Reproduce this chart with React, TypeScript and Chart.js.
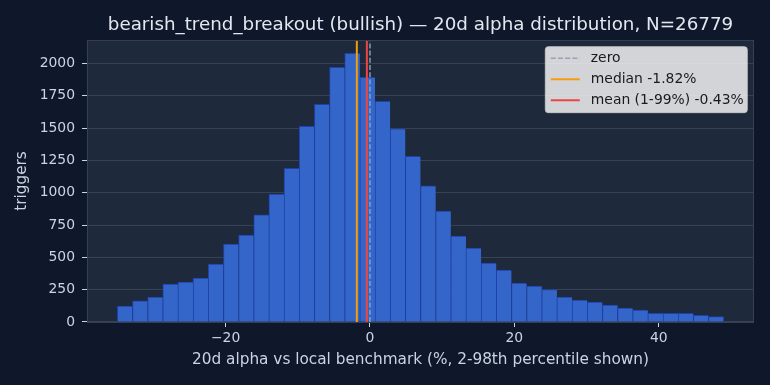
import React, { useEffect, useRef } from "react";
import { Chart, registerables } from "chart.js";

Chart.register(...registerables);

// ---- data ----
const BIN_START = -35;
const BIN_WIDTH = 2.1;
const counts = [
  124, 163, 193, 294, 309, 340, 448, 602, 672, 829,
  989, 1189, 1513, 1684, 1969, 2077, 1892, 1707, 1494, 1282,
  1053, 857, 664, 571, 456, 402, 301, 278, 250, 193,
  170, 154, 131, 108, 93, 67, 67, 67, 52, 41,
];
const xTicks = [-20, 0, 20, 40];
const yTicks = [0, 250, 500, 750, 1000, 1250, 1500, 1750, 2000];
const X_MIN = -39.2;
const X_MAX = 53.2;
const Y_MAX = 2181;
const zeroValue = 0;
const medianValue = -1.82;
const meanValue = -0.43;
const titleText = "bearish_trend_breakout (bullish) — 20d alpha distribution, N=26779";
const xLabel = "20d alpha vs local benchmark (%, 2-98th percentile shown)";
const yLabel = "triggers";

const FONT = "'DejaVu Sans', sans-serif";
const OUTER_BG = "#0f172a";
const PLOT_BG = "#1e293b";
const TEXT = "#cbd5e1";

const fmt = (v: number) => (v < 0 ? "\u2212" + Math.abs(v) : String(v));

const bgPlugin = {
  id: "bgPlugin",
  beforeDraw(chart: any) {
    const { ctx, chartArea: a } = chart;
    ctx.save();
    ctx.fillStyle = OUTER_BG;
    ctx.fillRect(0, 0, chart.width, chart.height);
    ctx.fillStyle = PLOT_BG;
    ctx.fillRect(a.left, a.top, a.right - a.left, a.bottom - a.top);
    ctx.restore();
  },
  afterDraw(chart: any) {
    const { ctx, chartArea: a } = chart;
    ctx.save();
    ctx.strokeStyle = "#334155";
    ctx.lineWidth = 1;
    ctx.strokeRect(a.left + 0.5, a.top + 0.5, a.right - a.left - 1, a.bottom - a.top);
    // legend
    const items = chart.data.datasets.filter((d: any) => d.type === "line");
    const w = 202, h = 66;
    const x0 = a.right - 6.7 - w, y0 = a.top + 6.7;
    ctx.beginPath();
    (ctx as any).roundRect(x0, y0, w, h, 3);
    ctx.fillStyle = "rgba(255,255,255,0.8)";
    ctx.fill();
    ctx.strokeStyle = "rgba(204,204,204,0.8)";
    ctx.stroke();
    ctx.font = `13.9px ${FONT}`;
    ctx.textBaseline = "middle";
    items.forEach((d: any, i: number) => {
      const cy = y0 + 11.6 + i * 21;
      ctx.beginPath();
      ctx.strokeStyle = d.borderColor;
      ctx.lineWidth = d.borderWidth;
      ctx.setLineDash(d.borderDash || []);
      ctx.moveTo(x0 + 5.5, cy);
      ctx.lineTo(x0 + 34.5, cy);
      ctx.stroke();
      ctx.setLineDash([]);
      ctx.fillStyle = "#1a1a1a";
      ctx.fillText(d.label, x0 + 45.5, cy);
    });
    ctx.restore();
  },
};

export default function App() {
  const ref = useRef<HTMLCanvasElement>(null);
  useEffect(() => {
    document.body.style.margin = "0";
    document.body.style.background = OUTER_BG;
    const barData = counts.map((c, i) => ({ x: BIN_START + BIN_WIDTH * (i + 0.5), y: c }));
    const vline = (v: number) => [{ x: v, y: 0 }, { x: v, y: Y_MAX }];
    const last = counts.length - 1;
    const chart = new Chart(ref.current!, {
      type: "bar",
      data: {
        datasets: [
          {
            type: "line",
            label: "zero",
            data: vline(zeroValue),
            borderColor: "#94a3b8",
            borderWidth: 1.4,
            borderDash: [5, 2.2],
            pointRadius: 0,
            order: 0,
          },
          {
            type: "line",
            label: `median ${medianValue.toFixed(2)}%`,
            data: vline(medianValue),
            borderColor: "#f59e0b",
            borderWidth: 2,
            pointRadius: 0,
            order: 0,
          },
          {
            type: "line",
            label: `mean (1-99%) ${meanValue.toFixed(2)}%`,
            data: vline(meanValue),
            borderColor: "#ef4444",
            borderWidth: 2,
            pointRadius: 0,
            order: 0,
          },
          {
            type: "bar",
            label: "count",
            data: barData,
            backgroundColor: "#3366c8",
            borderColor: "#1e40af",
            borderWidth: (c: any) => ({ top: 1, left: 1, right: c.dataIndex === last ? 1 : 0, bottom: 0 }),
            borderSkipped: false,
            barPercentage: 1,
            categoryPercentage: 1,
            order: 1,
          } as any,
        ],
      },
      options: {
        responsive: false,
        animation: false,
        layout: { padding: { left: 0, right: 16, top: 0, bottom: 0 } },
        plugins: {
          legend: { display: false },
          tooltip: { enabled: false },
          title: {
            display: true,
            fullSize: false,
            text: titleText,
            color: "#e2e8f0",
            font: { family: FONT, size: 18.3, weight: "normal", lineHeight: 1.2 },
            padding: { top: 14, bottom: 4 },
          },
        },
        scales: {
          x: {
            type: "linear",
            offset: false,
            min: X_MIN,
            max: X_MAX,
            afterBuildTicks: (s: any) => { s.ticks = xTicks.map((v) => ({ value: v })); },
            afterFit: (s: any) => { s.height = 63; },
            ticks: {
              color: TEXT,
              font: { family: FONT, size: 13.9 },
              padding: 3,
              maxRotation: 0,
              callback: (v: any) => fmt(Number(v)),
            },
            grid: { offset: false, drawOnChartArea: false, drawTicks: true, tickLength: 5, tickColor: TEXT, tickWidth: 1 },
            border: { display: false },
            title: {
              display: true,
              text: xLabel,
              color: TEXT,
              font: { family: FONT, size: 15.3, lineHeight: 1.2 },
              padding: { top: 0, bottom: 15.8 },
            },
          },
          y: {
            type: "linear",
            min: 0,
            max: Y_MAX,
            z: 1,
            afterBuildTicks: (s: any) => { s.ticks = yTicks.map((v) => ({ value: v })); },
            afterFit: (s: any) => { s.width = 87; },
            ticks: {
              color: TEXT,
              font: { family: FONT, size: 13.9 },
              padding: 7,
              callback: (v: any) => String(v),
            },
            grid: { color: "rgba(148,163,184,0.2)", drawTicks: true, tickLength: 5, tickColor: TEXT, tickWidth: 1 },
            border: { display: false },
            title: {
              display: true,
              text: yLabel,
              color: TEXT,
              font: { family: FONT, size: 15.3, lineHeight: 1.2 },
              padding: { top: 12.8, bottom: 0 },
            },
          },
        },
      },
      plugins: [bgPlugin],
    } as any);
    return () => chart.destroy();
  }, []);
  return (
    <div style={{ width: 770, height: 385 }}>
      <canvas ref={ref} width={770} height={385} />
    </div>
  );
}
